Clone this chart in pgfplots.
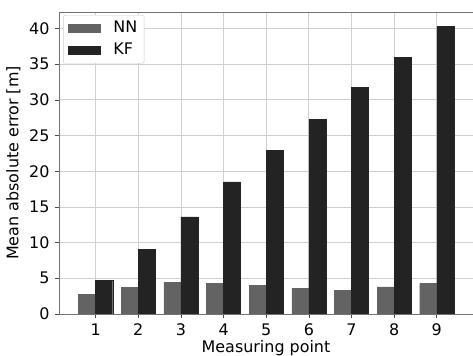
\documentclass[border=0pt]{standalone}
\usepackage{pgfplots}
\pgfplotsset{compat=1.18}
\usepackage{fontspec}
\setmainfont{DejaVu Sans}
\definecolor{nncol}{HTML}{636363}
\definecolor{kfcol}{HTML}{232323}
\definecolor{gridcol}{HTML}{D0D0D0}
\begin{document}
\fontsize{16}{19}\selectfont
\begin{tikzpicture}
\begin{axis}[
  name=ax,
  scale only axis,
  width=414bp, height=302bp,
  xmin=0.14, xmax=9.85,
  ymin=0, ymax=42.3,
  xtick={1,2,3,4,5,6,7,8,9},
  ytick={0,5,10,15,20,25,30,35,40},
  /pgf/number format/assume math mode=true,
  ticklabel style={font=\fontsize{16}{19}\selectfont},
  label style={font=\fontsize{16}{19}\selectfont},
  xlabel={Measuring point},
  ylabel={Mean absolute error [m]},
  xlabel style={yshift=6bp},
  ylabel style={yshift=-2bp},
  tick align=outside,
  tick pos=left,
  major tick length=4bp,
  tick style={color=black!70, line width=0.6pt},
  axis line style={color=black!55, line width=0.8pt},
  grid=major,
  grid style={color=gridcol, line width=0.8pt},
  legend style={at={(rel axis cs:0.01,0.99)}, anchor=north west,
    draw=black!20, rounded corners=2pt, font=\fontsize{16}{19}\selectfont,
    inner xsep=5bp, inner ysep=4bp, row sep=4bp},
  legend cell align=left,
  legend image code/.code={\fill[#1, sharp corners, draw=none] (0bp,-4.5bp) rectangle (33bp,4.5bp);
     \path[draw=none, fill=none] (0bp,0bp) rectangle (43bp,0.1bp);},
]
\addplot[ybar, bar width=0.4, bar shift=-0.2, fill=nncol, draw=nncol] coordinates {
(1,2.75) (2,3.7) (3,4.4) (4,4.3) (5,4.05) (6,3.6) (7,3.3) (8,3.8) (9,4.25)};
\addlegendentry{NN}
\addplot[ybar, bar width=0.4, bar shift=0.2, fill=kfcol, draw=kfcol] coordinates {
(1,4.7) (2,9.1) (3,13.6) (4,18.5) (5,22.9) (6,27.3) (7,31.7) (8,35.9) (9,40.3)};
\addlegendentry{KF}
\end{axis}
\pgfresetboundingbox
\useasboundingbox ([shift={(-59bp,-42bp)}]ax.south west) rectangle ([shift={(0bp,12bp)}]ax.north east);
\end{tikzpicture}
\end{document}
